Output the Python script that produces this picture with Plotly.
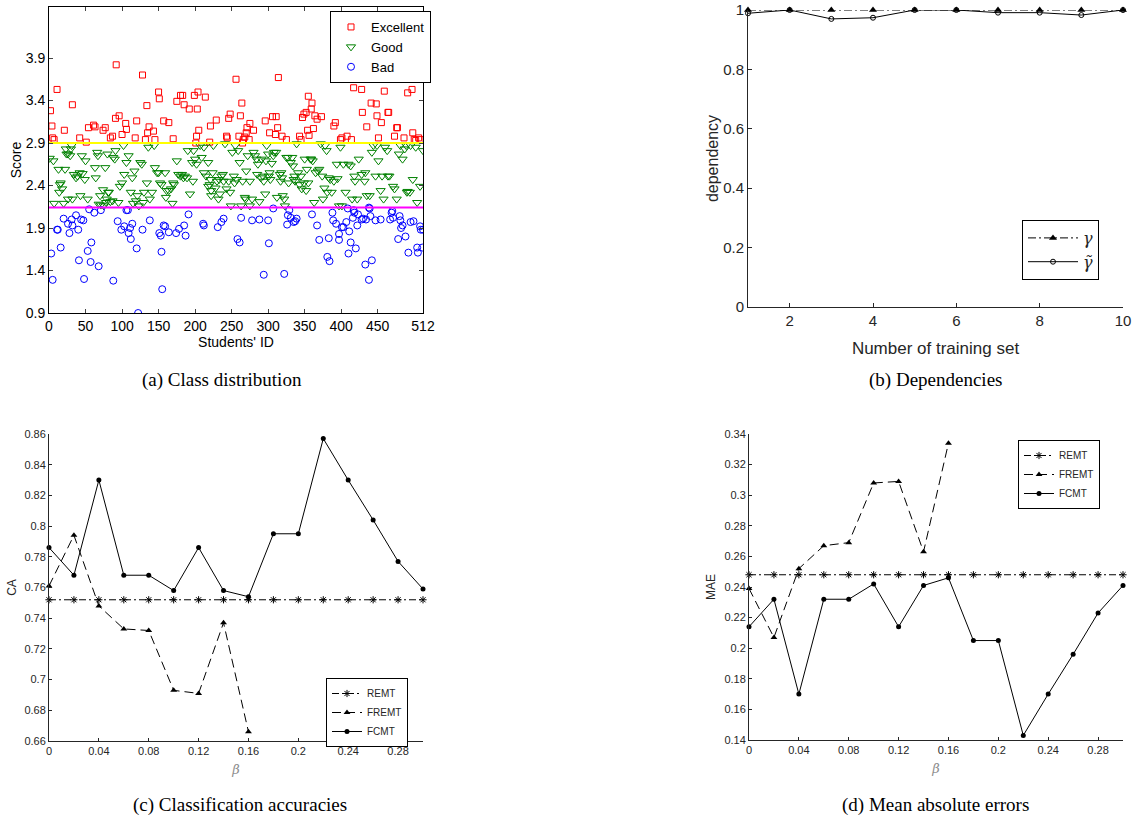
import plotly.graph_objects as go

# ---------------- (a) Class distribution ----------------
exc_id = [2,4,5,7,11,21,32,42,51,54,61,63,74,77,84,87,92,91,96,100,105,106,118,120,128,132,134,135,137,143,145,150,151,157,164,170,175,180,183,185,192,199,201,202,203,204,205,214,220,221,229,243,244,246,248,256,260,262,264,265,266,268,270,271,274,275,280,296,302,306,311,310,314,313,319,325,343,345,347,349,352,354,355,356,359,360,362,364,367,373,390,392,399,401,408,414,417,425,428,429,435,441,448,449,451,455,459,464,465,473,476,477,486,491,497,498,500,502,506,508]
exc_sc = [3.28,3.10,2.96,2.94,3.53,3.05,3.35,2.96,2.91,3.08,3.11,3.09,3.05,3.08,2.96,2.98,3.82,3.19,3.22,3.00,3.13,3.06,2.96,3.16,3.70,2.94,3.34,3.02,3.09,3.04,2.94,3.50,3.42,3.16,3.14,2.95,3.39,3.46,3.46,3.35,3.30,3.46,2.90,2.98,3.30,3.50,3.05,3.44,2.91,3.10,3.17,2.98,2.96,3.19,3.24,3.65,2.98,3.22,3.37,2.90,2.94,2.97,3.02,3.08,2.94,3.13,3.05,3.16,3.02,3.21,3.21,3.00,3.67,3.08,2.98,2.94,2.98,2.94,3.20,3.24,3.26,3.05,3.45,2.99,3.30,3.37,3.07,3.22,3.18,3.21,3.10,3.14,2.94,2.96,2.98,2.94,3.55,3.66,3.53,3.26,3.09,3.37,3.36,3.22,2.96,3.14,3.51,3.26,3.26,2.98,3.08,3.08,2.96,3.49,3.53,3.02,2.94,2.93,2.96,2.94]

good_id = [1,6,7,13,14,15,16,18,20,22,23,24,26,26,29,30,31,32,34,37,39,42,43,45,46,49,50,53,63,64,66,67,68,70,71,74,75,77,78,79,80,81,82,84,87,88,90,91,95,97,100,103,102,106,109,112,114,115,117,119,121,123,125,127,129,130,134,136,138,141,144,145,148,150,152,154,159,160,161,164,167,169,170,171,175,177,180,182,184,186,189,190,193,196,197,198,200,202,207,209,212,212,215,218,218,220,221,222,222,224,225,228,230,232,233,234,236,238,239,241,243,246,248,249,251,253,254,255,257,259,261,263,265,268,269,270,272,275,275,278,280,282,284,285,286,288,290,291,293,294,296,297,298,300,301,302,303,305,307,308,311,312,316,317,318,319,320,322,323,325,327,328,331,333,334,335,336,337,339,341,343,345,346,349,350,352,353,355,358,359,361,363,365,368,370,372,374,375,377,378,380,381,383,385,387,390,394,395,397,399,401,403,406,410,413,415,418,419,422,424,428,432,433,435,439,442,444,447,449,451,454,456,458,460,463,464,466,471,473,476,479,481,484,487,489,490,491,494,495,498,502,504,508,512]
good_sc = [2.72,2.69,2.19,2.59,2.32,2.41,2.43,2.36,2.19,2.59,2.83,2.77,2.77,2.24,2.75,2.83,2.87,2.24,2.53,2.49,2.51,2.55,2.28,2.75,2.54,2.47,2.69,2.24,2.61,2.49,2.79,2.75,2.18,2.28,2.17,2.35,2.16,2.61,2.20,2.24,2.77,2.32,2.32,2.21,2.22,2.73,2.71,2.81,2.20,2.39,2.43,2.53,2.87,2.67,2.75,2.32,2.49,2.19,2.57,2.22,2.28,2.16,2.67,2.65,2.20,2.32,2.43,2.85,2.24,2.32,2.87,2.61,2.55,2.55,2.43,2.41,2.55,2.26,2.34,2.34,2.36,2.19,2.43,2.41,2.69,2.53,2.51,2.53,2.49,2.51,2.49,2.81,2.30,2.67,2.45,2.81,2.71,2.65,2.87,2.73,2.85,2.55,2.51,2.67,2.39,2.41,2.47,2.34,2.28,2.55,2.87,2.37,2.45,2.24,2.47,2.30,2.51,2.53,2.45,2.89,2.36,2.45,2.32,2.16,2.79,2.51,2.43,2.87,2.47,2.81,2.67,2.16,2.45,2.26,2.24,2.57,2.75,2.45,2.16,2.24,2.79,2.75,2.71,2.53,2.65,2.21,2.49,2.71,2.51,2.45,2.30,2.69,2.87,2.77,2.51,2.55,2.47,2.66,2.75,2.79,2.79,2.26,2.53,2.45,2.55,2.49,2.28,2.24,2.16,2.73,2.73,2.43,2.67,2.73,2.63,2.47,2.51,2.45,2.89,2.55,2.41,2.51,2.36,2.43,2.71,2.34,2.59,2.43,2.71,2.71,2.69,2.20,2.55,2.57,2.59,2.89,2.51,2.24,2.37,2.87,2.81,2.32,2.49,2.47,2.32,2.45,2.65,2.48,2.16,2.85,2.16,2.65,2.32,2.65,2.63,2.24,2.51,2.45,2.24,2.71,2.53,2.45,2.55,2.28,2.28,2.79,2.87,2.51,2.87,2.69,2.34,2.51,2.24,2.85,2.81,2.51,2.51,2.39,2.36,2.24,2.77,2.87,2.71,2.83,2.87,2.32,2.33,2.32,2.87,2.47,2.85,2.20,2.39,2.81]

bad_id = [3,5,11,12,16,20,26,28,31,32,37,40,41,44,47,48,53,55,57,58,62,68,71,88,94,99,103,106,108,109,111,112,114,120,122,128,138,151,153,154,155,157,159,164,174,178,185,187,191,211,212,231,236,239,258,261,263,278,288,294,300,301,307,322,326,327,329,331,335,337,339,360,367,370,381,383,384,388,389,393,397,397,401,403,407,409,410,411,413,416,417,418,420,422,423,428,430,433,434,438,438,439,440,442,447,454,467,469,470,471,478,480,481,482,484,488,492,495,499,504,505,508,509,511,512]
bad_sc = [1.60,1.29,1.88,1.88,1.67,2.01,1.95,1.84,2.00,1.93,2.05,1.88,1.52,2.00,1.99,1.30,1.63,2.12,1.50,1.73,2.08,1.45,2.11,1.28,1.98,1.88,1.92,2.11,2.11,1.84,1.90,1.77,1.95,1.66,0.90,1.88,1.99,1.84,1.81,1.62,1.18,1.93,1.92,1.85,1.84,1.89,1.93,1.81,2.06,1.95,1.93,1.91,1.97,2.01,1.77,1.73,2.02,1.99,2.00,1.35,1.99,1.72,2.13,1.36,1.94,2.05,2.11,2.02,1.97,1.98,2.01,2.06,1.93,1.76,1.56,1.78,1.51,2.08,1.99,1.95,1.83,1.76,1.91,1.91,1.97,2.13,1.60,1.86,1.73,2.02,2.11,2.08,1.66,1.93,2.06,2.00,2.01,1.47,2.00,2.14,1.29,2.13,2.04,1.52,1.99,2.00,2.00,2.08,2.10,2.02,1.77,2.04,1.99,1.90,1.93,1.80,1.61,1.97,1.98,1.67,1.61,1.92,1.88,1.67,1.88]

thr_high = 2.9
thr_low = 2.14
a_xticks = [0, 50, 100, 150, 200, 250, 300, 350, 400, 450, 512]
a_yticks = [0.9, 1.4, 1.9, 2.4, 2.9, 3.4, 3.9]

# ---------------- (b) Dependencies ----------------
train_set = [1, 2, 3, 4, 5, 6, 7, 8, 9, 10]
gamma = [1, 1, 1, 1, 1, 1, 1, 1, 1, 1]
gamma_tilde = [0.989, 1.0, 0.970, 0.974, 1.0, 1.0, 0.991, 0.991, 0.983, 1.0]

# ---------------- (c) / (d) ----------------
beta = [0, 0.02, 0.04, 0.06, 0.08, 0.10, 0.12, 0.14, 0.16, 0.18, 0.20, 0.22, 0.24, 0.26, 0.28, 0.30]
beta_fremt = [0, 0.02, 0.04, 0.06, 0.08, 0.10, 0.12, 0.14, 0.16]
ca_remt = [0.752] * 16
ca_fremt = [0.761, 0.794, 0.748, 0.733, 0.732, 0.693, 0.691, 0.737, 0.666]
ca_fcmt = [0.786, 0.768, 0.830, 0.768, 0.768, 0.758, 0.786, 0.758, 0.754, 0.795, 0.795, 0.857, 0.830, 0.804, 0.777, 0.759]
mae_remt = [0.248] * 16
mae_fremt = [0.239, 0.207, 0.252, 0.267, 0.269, 0.308, 0.309, 0.263, 0.334]
mae_fcmt = [0.214, 0.232, 0.170, 0.232, 0.232, 0.242, 0.214, 0.241, 0.246, 0.205, 0.205, 0.143, 0.170, 0.196, 0.223, 0.241]
beta_ticks = [0, 0.04, 0.08, 0.12, 0.16, 0.2, 0.24, 0.28]
beta_ticklabels = ["0", "0.04", "0.08", "0.12", "0.16", "0.2", "0.24", "0.28"]

W, H = 1135, 821
def px(x0, x1):
    return [x0 / W, x1 / W]
def py(y_top, y_bot):
    return [1 - y_bot / H, 1 - y_top / H]

fig = go.Figure()
SANS = "Liberation Sans, Arial, sans-serif"
DARK = "#262626"

# ----- (a) -----
fig.add_trace(go.Scatter(x=exc_id, y=exc_sc, mode="markers", name="Excellent",
    marker=dict(symbol="square-open", size=6, color="#ff0000", line=dict(width=1)),
    xaxis="x", yaxis="y", legend="legend"))
fig.add_trace(go.Scatter(x=good_id, y=good_sc, mode="markers", name="Good",
    marker=dict(symbol="triangle-down-open", size=8, color="#008000", line=dict(width=1)),
    xaxis="x", yaxis="y", legend="legend"))
fig.add_trace(go.Scatter(x=bad_id, y=bad_sc, mode="markers", name="Bad",
    marker=dict(symbol="circle-open", size=7, color="#0000ff", line=dict(width=1)),
    xaxis="x", yaxis="y", legend="legend"))
fig.add_trace(go.Scatter(x=[0, 512], y=[thr_high, thr_high], mode="lines", showlegend=False,
    line=dict(color="#ffff00", width=2), xaxis="x", yaxis="y"))
fig.add_trace(go.Scatter(x=[0, 512], y=[thr_low, thr_low], mode="lines", showlegend=False,
    line=dict(color="#ff00ff", width=2), xaxis="x", yaxis="y"))

# ----- (b) -----
fig.add_trace(go.Scatter(x=train_set, y=gamma, mode="lines+markers", name="<i>γ</i>",
    line=dict(color="black", width=1, dash="8px,3px,2px,3px"),
    marker=dict(symbol="triangle-up", size=7, color="black"),
    xaxis="x2", yaxis="y2", legend="legend2", cliponaxis=False))
fig.add_trace(go.Scatter(x=train_set, y=gamma_tilde, mode="lines+markers", name="<i>γ̃</i>",
    line=dict(color="black", width=1),
    marker=dict(symbol="circle-open", size=5, color="black", line=dict(width=1)),
    xaxis="x2", yaxis="y2", legend="legend2", cliponaxis=False))

# ----- (c) / (d) -----
def add_three(xa, ya, leg, remt, fremt, fcmt):
    fig.add_trace(go.Scatter(x=beta, y=remt, mode="lines+markers", name="REMT",
        line=dict(color="black", width=1, dash="7px,3px,2px,3px"),
        marker=dict(symbol="asterisk-open", size=6, color="black", line=dict(width=1, color="black")),
        xaxis=xa, yaxis=ya, legend=leg, cliponaxis=False))
    fig.add_trace(go.Scatter(x=beta_fremt, y=fremt, mode="lines+markers", name="FREMT",
        line=dict(color="black", width=1, dash="9px,5px"),
        marker=dict(symbol="triangle-up", size=6, color="black"),
        xaxis=xa, yaxis=ya, legend=leg, cliponaxis=False))
    fig.add_trace(go.Scatter(x=beta, y=fcmt, mode="lines+markers", name="FCMT",
        line=dict(color="black", width=1),
        marker=dict(symbol="circle", size=5, color="black"),
        xaxis=xa, yaxis=ya, legend=leg, cliponaxis=False))

add_three("x3", "y3", "legend3", ca_remt, ca_fremt, ca_fcmt)
add_three("x4", "y4", "legend4", mae_remt, mae_fremt, mae_fcmt)

legend_common = dict(bgcolor="white", bordercolor="black", borderwidth=1,
                     xanchor="left", yanchor="top", tracegroupgap=0)

fig.update_layout(
    width=W, height=H,
    margin=dict(l=0, r=0, t=0, b=0, autoexpand=False),
    paper_bgcolor="white", plot_bgcolor="white",
    showlegend=True,
    # (a)
    xaxis=dict(domain=px(49, 423), range=[0, 512], tickvals=a_xticks, ticks="inside", ticklen=4,
               showline=True, linecolor="black", mirror="ticks", showgrid=False, zeroline=False,
               tickfont=dict(family=SANS, size=14, color="black"), automargin=False,
               title=dict(text="Students' ID", font=dict(family=SANS, size=14, color="black"), standoff=4),
               anchor="y"),
    yaxis=dict(domain=py(7, 313), range=[0.9, 4.5], tickvals=a_yticks, ticks="inside", ticklen=4,
               showline=True, linecolor="black", mirror="ticks", showgrid=False, zeroline=False,
               tickfont=dict(family=SANS, size=14, color="black"), automargin=False,
               title=dict(text="Score", font=dict(family=SANS, size=14, color="black"), standoff=0),
               anchor="x"),
    # (b)
    xaxis2=dict(domain=px(748, 1123), range=[1, 10], tickvals=[2, 4, 6, 8, 10], ticks="inside", ticklen=4,
                showline=True, linecolor=DARK, tickcolor=DARK, showgrid=False, zeroline=False,
                tickfont=dict(family=SANS, size=15, color=DARK), automargin=False,
                title=dict(text="Number of training set", font=dict(family=SANS, size=17, color=DARK), standoff=14),
                anchor="y2"),
    yaxis2=dict(domain=py(10, 307), range=[0, 1], tickvals=[0, 0.2, 0.4, 0.6, 0.8, 1],
                ticktext=["0", "0.2", "0.4", "0.6", "0.8", "1"], ticks="inside", ticklen=4,
                showline=True, linecolor=DARK, tickcolor=DARK, showgrid=False, zeroline=False,
                tickfont=dict(family=SANS, size=15, color=DARK), automargin=False,
                title=dict(text="dependency", font=dict(family=SANS, size=16, color=DARK), standoff=0),
                anchor="x2"),
    # (c)
    xaxis3=dict(domain=px(49, 423), range=[0, 0.3], tickvals=beta_ticks, ticktext=beta_ticklabels,
                ticks="inside", ticklen=3, showline=True, linecolor=DARK, tickcolor=DARK,
                showgrid=False, zeroline=False, tickfont=dict(family=SANS, size=11, color=DARK),
                automargin=False,
                title=dict(text="<i>β</i>", font=dict(family="DejaVu Serif, serif", size=13, color="#8c8c8c"), standoff=8),
                anchor="y3"),
    yaxis3=dict(domain=py(434, 741), range=[0.66, 0.86],
                tickvals=[0.66, 0.68, 0.70, 0.72, 0.74, 0.76, 0.78, 0.80, 0.82, 0.84, 0.86],
                ticktext=["0.66", "0.68", "0.7", "0.72", "0.74", "0.76", "0.78", "0.8", "0.82", "0.84", "0.86"],
                ticks="inside", ticklen=3, showline=True, linecolor=DARK, tickcolor=DARK,
                showgrid=False, zeroline=False, tickfont=dict(family=SANS, size=11, color=DARK),
                automargin=False,
                title=dict(text="CA", font=dict(family=SANS, size=12, color=DARK), standoff=5),
                anchor="x3"),
    # (d)
    xaxis4=dict(domain=px(749, 1123), range=[0, 0.3], tickvals=beta_ticks, ticktext=beta_ticklabels,
                ticks="inside", ticklen=3, showline=True, linecolor=DARK, tickcolor=DARK,
                showgrid=False, zeroline=False, tickfont=dict(family=SANS, size=11, color=DARK),
                automargin=False,
                title=dict(text="<i>β</i>", font=dict(family="DejaVu Serif, serif", size=13, color="#8c8c8c"), standoff=8),
                anchor="y4"),
    yaxis4=dict(domain=py(434, 740), range=[0.14, 0.34],
                tickvals=[0.14, 0.16, 0.18, 0.20, 0.22, 0.24, 0.26, 0.28, 0.30, 0.32, 0.34],
                ticktext=["0.14", "0.16", "0.18", "0.2", "0.22", "0.24", "0.26", "0.28", "0.3", "0.32", "0.34"],
                ticks="inside", ticklen=3, showline=True, linecolor=DARK, tickcolor=DARK,
                showgrid=False, zeroline=False, tickfont=dict(family=SANS, size=11, color=DARK),
                automargin=False,
                title=dict(text="MAE", font=dict(family=SANS, size=12, color=DARK), standoff=6),
                anchor="x4"),
    legend=dict(x=330 / W, y=1 - 11 / H, font=dict(family=SANS, size=13, color="black"),
                itemwidth=30, **legend_common),
    legend2=dict(x=1022 / W, y=1 - 220 / H, font=dict(family="DejaVu Serif, serif", size=16, color=DARK),
                 itemwidth=50, **legend_common),
    legend3=dict(x=326 / W, y=1 - 678 / H, font=dict(family=SANS, size=10, color=DARK),
                 itemwidth=30, **legend_common),
    legend4=dict(x=1018 / W, y=1 - 440 / H, font=dict(family=SANS, size=10, color=DARK),
                 itemwidth=30, **legend_common),
)

captions = [("(a) Class distribution", 222, 380),
            ("(b) Dependencies", 935, 380),
            ("(c) Classification accuracies", 240, 805),
            ("(d) Mean absolute errors", 936, 805)]
for text, cx, cy in captions:
    fig.add_annotation(text=text, x=cx / W, y=1 - cy / H, xref="paper", yref="paper",
                       xanchor="center", yanchor="middle", showarrow=False,
                       font=dict(family="Liberation Serif, serif", size=19, color="black"))

fig.write_html("out.html", config={"displayModeBar": False},
               post_script="document.body.style.margin='0';document.body.style.overflow='hidden';")
